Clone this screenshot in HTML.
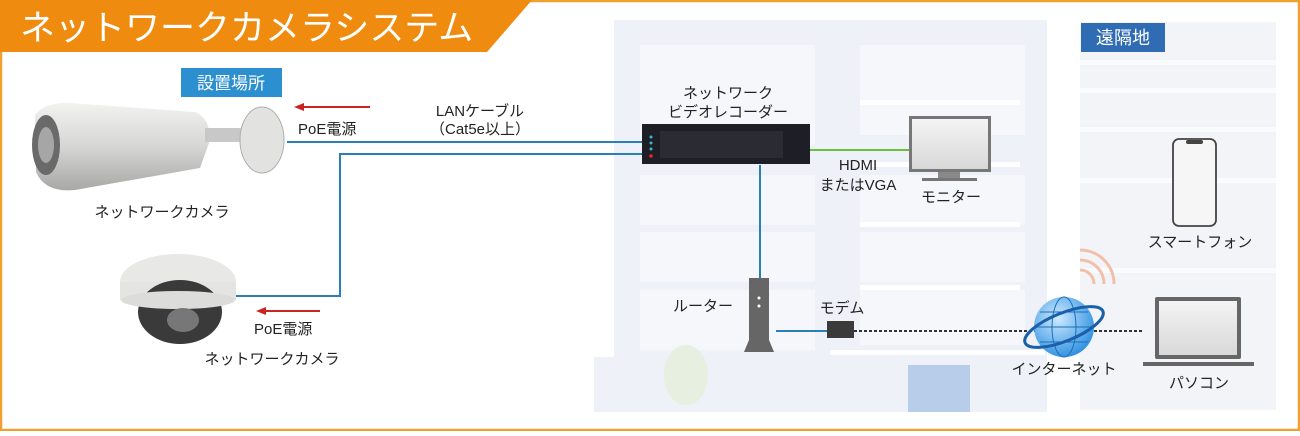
<!DOCTYPE html>
<html><head><meta charset="utf-8"><style>
html,body{margin:0;padding:0;background:#fff}
svg text{font-family:"Liberation Sans","Noto Sans CJK JP",sans-serif;fill:#222}
</style></head><body>
<svg width="1300" height="431" viewBox="0 0 1300 431" xmlns="http://www.w3.org/2000/svg">
<defs>
<linearGradient id="cam" x1="0" y1="0" x2="0" y2="1"><stop offset="0" stop-color="#f2f2f0"/><stop offset="0.5" stop-color="#d6d6d4"/><stop offset="1" stop-color="#a8a8a6"/></linearGradient>
<radialGradient id="glb" cx="0.4" cy="0.35" r="0.7"><stop offset="0" stop-color="#cfeaff"/><stop offset="1" stop-color="#2a8ee0"/></radialGradient>
<linearGradient id="scr" x1="0" y1="0" x2="0" y2="1"><stop offset="0" stop-color="#f4f4f4"/><stop offset="1" stop-color="#d8d8d8"/></linearGradient>
</defs>
<rect x="1" y="1" width="1298" height="429" fill="#fff" stroke="#f0a030" stroke-width="2.5"/>
<!-- building -->
<rect x="614" y="20" width="433" height="392" fill="#eef1f7"/>
<g fill="#f6f7fa">
<rect x="640" y="45" width="175" height="100"/><rect x="860" y="45" width="165" height="90"/>
<rect x="640" y="175" width="175" height="50"/><rect x="860" y="175" width="165" height="50"/>
<rect x="640" y="232" width="175" height="50"/><rect x="860" y="232" width="165" height="50"/>
<rect x="640" y="290" width="175" height="60"/><rect x="860" y="290" width="165" height="55"/>
</g>
<g fill="#fff"><rect x="860" y="100" width="160" height="5"/><rect x="860" y="162" width="160" height="5"/><rect x="860" y="222" width="160" height="5"/><rect x="860" y="285" width="160" height="5"/><rect x="830" y="350" width="215" height="5"/></g>
<rect x="594" y="357" width="30" height="55" fill="#eef1f7"/>
<rect x="908" y="365" width="62" height="47" fill="#b8cdea"/>
<ellipse cx="686" cy="375" rx="22" ry="30" fill="#e6efe0"/>
<!-- remote -->
<rect x="1080" y="22" width="196" height="388" fill="#f3f4f7"/>
<g fill="#fafbfc"><rect x="1080" y="60" width="196" height="5"/><rect x="1080" y="88" width="196" height="5"/><rect x="1080" y="127" width="196" height="5"/><rect x="1080" y="178" width="196" height="5"/><rect x="1080" y="268" width="196" height="5"/></g>
<rect x="1081" y="23" width="84" height="29" fill="#2f6cb3"/>
<text x="1123" y="44" font-size="18" text-anchor="middle" style="fill:#fff">遠隔地</text>
<!-- title banner -->
<polygon points="0,0 532,0 487,52 0,52" fill="#ef8c10"/>
<text x="20" y="40" font-size="35" style="fill:#fff">ネットワークカメラシステム</text>
<!-- label 設置場所 -->
<rect x="181" y="68" width="101" height="29" fill="#2b8fd0"/>
<text x="231" y="89" font-size="17" text-anchor="middle" style="fill:#fff">設置場所</text>
<!-- lines -->
<g stroke="#2a7fb8" stroke-width="2" fill="none">
<line x1="287" y1="142" x2="642" y2="142"/>
<polyline points="642,154 340,154 340,296 218,296"/>
<line x1="760" y1="165" x2="760" y2="280"/>
<line x1="776" y1="331" x2="828" y2="331"/>
</g>
<line x1="810" y1="150" x2="909" y2="150" stroke="#6cbf3c" stroke-width="2"/>
<line x1="854" y1="331" x2="1143" y2="331" stroke="#333" stroke-width="2" stroke-dasharray="3,2"/>
<!-- red arrows -->
<g stroke="#cc2222" stroke-width="2"><line x1="300" y1="107" x2="370" y2="107"/><line x1="262" y1="311" x2="320" y2="311"/></g>
<polygon points="294,107 304,103 304,111" fill="#cc2222"/>
<polygon points="256,311 266,307 266,315" fill="#cc2222"/>
<!-- bullet camera -->
<path d="M35 115 Q45 102 70 103 L195 112 Q210 118 210 140 L200 168 L75 190 Q45 193 36 172 Z" fill="url(#cam)"/>
<ellipse cx="46" cy="145" rx="14" ry="30" fill="#6a6a6a"/>
<ellipse cx="46" cy="145" rx="8" ry="18" fill="#a6a6a6"/>
<rect x="205" y="128" width="40" height="14" fill="#c8c8c8"/>
<ellipse cx="262" cy="140" rx="22" ry="33" fill="#e2e2e0" stroke="#b0b0b0"/>
<!-- dome camera -->
<ellipse cx="178" cy="282" rx="58" ry="28" fill="#e8e8e6"/>
<rect x="120" y="282" width="116" height="18" fill="#e4e4e2"/>
<ellipse cx="180" cy="312" rx="42" ry="32" fill="#3a3a3a"/>
<ellipse cx="178" cy="300" rx="57" ry="9" fill="#dcdcda"/>
<ellipse cx="183" cy="320" rx="16" ry="12" fill="#777"/>
<!-- NVR -->
<rect x="642" y="124" width="168" height="40" fill="#1e1f26"/>
<rect x="660" y="131" width="123" height="27" fill="#2a2b33"/>
<g fill="#3bc"><circle cx="651" cy="137" r="1.5"/><circle cx="651" cy="143" r="1.5"/><circle cx="651" cy="149" r="1.5"/></g>
<circle cx="651" cy="156" r="1.8" fill="#e22"/>
<!-- monitor -->
<rect x="909" y="116" width="82" height="56" fill="#777"/>
<rect x="912" y="119" width="76" height="50" fill="url(#scr)"/>
<rect x="938" y="172" width="22" height="6" fill="#888"/><rect x="922" y="178" width="55" height="3" fill="#777"/>
<!-- router -->
<rect x="749" y="278" width="20" height="65" fill="#666"/>
<polygon points="744,352 774,352 769,340 749,340" fill="#666"/>
<circle cx="759" cy="298" r="1.5" fill="#fff"/><circle cx="759" cy="306" r="1.5" fill="#fff"/>
<!-- modem -->
<rect x="827" y="321" width="27" height="17" fill="#3a3a3a"/>
<!-- globe -->
<circle cx="1064" cy="327" r="30" fill="url(#glb)"/>
<g stroke="#1a6fb8" stroke-width="1" fill="none"><ellipse cx="1064" cy="327" rx="12" ry="30"/><line x1="1034" y1="327" x2="1094" y2="327"/><line x1="1040" y1="312" x2="1088" y2="312"/><line x1="1040" y1="342" x2="1088" y2="342"/></g>
<ellipse cx="1064" cy="327" rx="42" ry="14" transform="rotate(-22 1064 327)" fill="none" stroke="#1a5fa8" stroke-width="3"/>
<!-- wifi -->
<g stroke="#f0c0aa" stroke-width="3" fill="none"><path d="M1080 270 A14 14 0 0 1 1094 284"/><path d="M1080 260 A24 24 0 0 1 1104 284"/><path d="M1080 250 A34 34 0 0 1 1114 284"/></g>
<!-- phone -->
<rect x="1173" y="139" width="43" height="87" rx="6" fill="#f6f6f6" stroke="#444" stroke-width="1.8"/>
<rect x="1186" y="140" width="17" height="4" rx="2" fill="#444"/>
<!-- laptop -->
<rect x="1155" y="297" width="86" height="62" rx="2" fill="#666"/>
<rect x="1159" y="301" width="78" height="54" fill="url(#scr)"/>
<rect x="1143" y="362" width="111" height="4" fill="#666"/>
<!-- texts -->
<g font-size="15">
<text x="298" y="134">PoE電源</text>
<text x="254" y="334">PoE電源</text>
<text x="480" y="116" text-anchor="middle">LANケーブル</text>
<text x="480" y="134" text-anchor="middle">（Cat5e以上）</text>
<text x="162" y="217" text-anchor="middle">ネットワークカメラ</text>
<text x="272" y="364" text-anchor="middle">ネットワークカメラ</text>
<text x="728" y="98" text-anchor="middle">ネットワーク</text>
<text x="728" y="117" text-anchor="middle">ビデオレコーダー</text>
<text x="858" y="170" text-anchor="middle">HDMI</text>
<text x="858" y="190" text-anchor="middle">またはVGA</text>
<text x="951" y="202" text-anchor="middle">モニター</text>
<text x="703" y="311" text-anchor="middle">ルーター</text>
<text x="842" y="313" text-anchor="middle">モデム</text>
<text x="1064" y="374" text-anchor="middle">インターネット</text>
<text x="1200" y="247" text-anchor="middle">スマートフォン</text>
<text x="1199" y="388" text-anchor="middle">パソコン</text>
</g>
</svg>
</body></html>
